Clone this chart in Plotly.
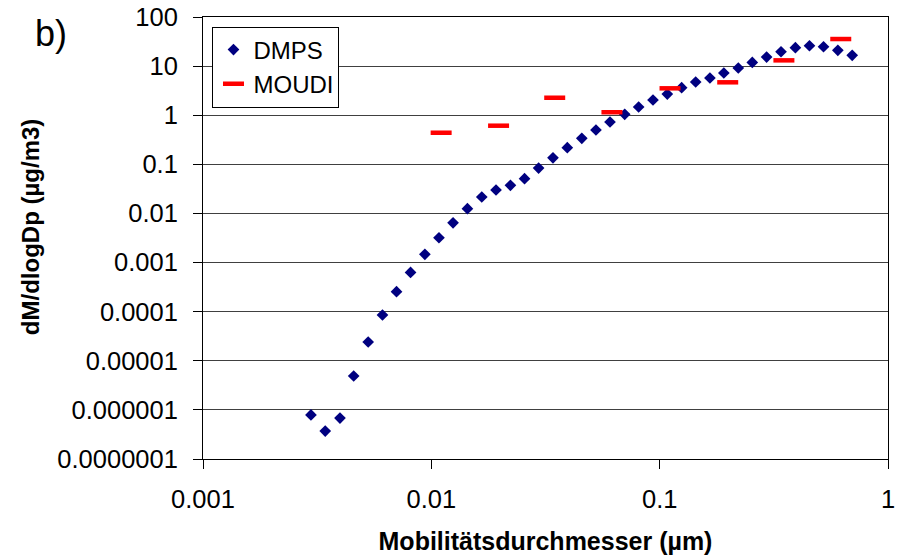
import plotly.graph_objects as go

# DMPS data (mobility diameter in µm, dM/dlogDp in µg/m3)
dmps_dp = [0.00297, 0.00343, 0.00398, 0.00457, 0.00529, 0.00611, 0.00704, 0.00811,
           0.00937, 0.0108, 0.01245, 0.01439, 0.01663, 0.0192, 0.0222, 0.0256,
           0.0295, 0.0341, 0.0394, 0.0456, 0.0526, 0.0606, 0.0703, 0.0809,
           0.0935, 0.108, 0.1248, 0.1438, 0.166, 0.191, 0.221, 0.2545,
           0.294, 0.340, 0.393, 0.453, 0.522, 0.603, 0.697]
dmps_m = [7.9e-7, 3.7e-7, 6.8e-7, 4.9e-6, 2.41e-5, 8.55e-5, 2.55e-4, 6.3e-4,
          1.47e-3, 3.2e-3, 6.44e-3, 0.0125, 0.0216, 0.030, 0.0374, 0.051,
          0.084, 0.136, 0.218, 0.339, 0.50, 0.728, 1.045, 1.47,
          2.04, 2.70, 3.63, 4.75, 5.73, 7.24, 9.16, 11.9,
          15.3, 19.6, 23.7, 26.0, 24.8, 21.0, 16.6]

# MOUDI data
moudi_dp = [0.01104, 0.0197, 0.0347, 0.0618, 0.111, 0.1986, 0.350, 0.621]
moudi_m = [0.44, 0.612, 2.27, 1.15, 3.53, 4.68, 13.1, 35.6]

y_tickvals = [1e-7, 1e-6, 1e-5, 1e-4, 1e-3, 1e-2, 1e-1, 1, 10, 100]
y_ticktext = ["0.0000001", "0.000001", "0.00001", "0.0001", "0.001", "0.01",
              "0.1", "1", "10", "100"]
x_tickvals = [0.001, 0.01, 0.1, 1]
x_ticktext = ["0.001", "0.01", "0.1", "1"]

FONT = "Liberation Sans, Arial, sans-serif"

fig = go.Figure()
fig.add_trace(go.Scatter(
    x=dmps_dp, y=dmps_m, mode="markers", name="DMPS",
    marker=dict(symbol="diamond", size=9, color="#000080", line=dict(width=0)),
))
fig.add_trace(go.Scatter(
    x=moudi_dp, y=moudi_m, mode="markers", name="MOUDI",
    marker=dict(symbol="line-ew", size=15, color="#FF0000",
                line=dict(width=4.5, color="#FF0000")),
))

L, R, T, B = 203, 11.5, 17, 99
PW, PH = 900 - L - R, 558 - T - B
fig.update_layout(
    width=900, height=558,
    margin=dict(l=L, r=R, t=T, b=B, autoexpand=False),
    paper_bgcolor="white", plot_bgcolor="white",
    font=dict(family=FONT, size=25.5, color="black"),
    showlegend=True,
    legend=dict(x=(212.5 - L) / PW, y=(459 - 26.5) / PH, xanchor="left", yanchor="top",
                bordercolor="black", borderwidth=1, bgcolor="white",
                font=dict(size=24), itemwidth=30, tracegroupgap=0),
    xaxis=dict(type="log", range=[-3, 0], tickvals=x_tickvals, ticktext=x_ticktext,
               showgrid=False, showline=True, linecolor="black", linewidth=1,
               mirror=True, ticks="outside", ticklen=9, tickcolor="black",
               ticklabelstandoff=8, zeroline=False, automargin=False,
               title=dict(text="<b>Mobilitätsdurchmesser (µm)</b>",
                          font=dict(size=25), standoff=20)),
    yaxis=dict(type="log", range=[-7, 2], tickvals=y_tickvals, ticktext=y_ticktext,
               showgrid=True, gridcolor="#404040", gridwidth=1,
               showline=True, linecolor="black", linewidth=1, mirror=True,
               ticks="outside", ticklen=9, tickcolor="black", automargin=False,
               ticklabelstandoff=10, zeroline=False),
    annotations=[
        dict(text="<b>dM/dlogDp (µg/m3)</b>", xref="paper", yref="paper",
             x=(30 - L) / PW, y=(459 - 227) / PH,
             xanchor="center", yanchor="middle", textangle=-90,
             showarrow=False, font=dict(size=24)),
        dict(text="b)", xref="paper", yref="paper",
             x=(33 - L) / PW, y=(459 - 34) / PH,
             xanchor="left", yanchor="middle", showarrow=False,
             font=dict(size=36)),
    ],
)

fig.write_html("out.html")
